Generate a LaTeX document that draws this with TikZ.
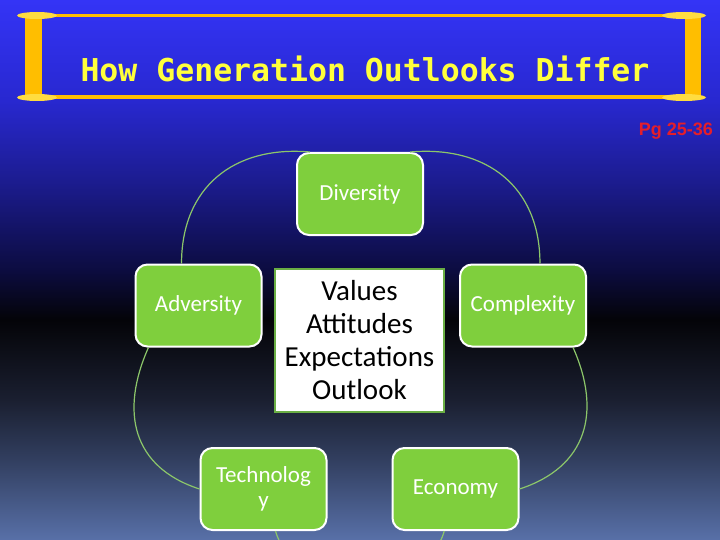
\documentclass[tikz,border=0pt]{standalone}
\usepackage{fontspec}
\setmainfont{Carlito}
\newfontfamily\titlefont{DejaVu Sans Mono}
\newfontfamily\pagefont{Liberation Sans}
\usetikzlibrary{positioning}

\definecolor{bgtop}{HTML}{3434F6}
\definecolor{bgblue}{HTML}{2828D0}
\definecolor{bgmid}{HTML}{1C1C90}
\definecolor{bgnavy}{HTML}{0C0C40}
\definecolor{bgblack}{HTML}{040408}
\definecolor{bgslate}{HTML}{1A1F30}
\definecolor{bgsteel}{HTML}{323F60}
\definecolor{bgbottom}{HTML}{5870A8}
\definecolor{scroll}{HTML}{FFBE00}
\definecolor{scrollhi}{HTML}{FFDC40}
\definecolor{titleyellow}{HTML}{FFFF3C}
\definecolor{pagered}{HTML}{E41E2A}
\definecolor{leafgreen}{HTML}{7FCF3D}
\definecolor{ringgreen}{HTML}{8CC66A}
\definecolor{coregreen}{HTML}{6AAE44}

\pgfdeclareverticalshading{slidebg}{100bp}{color(0bp)=(bgbottom); color(25bp)=(bgbottom);
  color(32.4bp)=(bgsteel); color(38bp)=(bgslate); color(45.4bp)=(bgblack); color(50bp)=(bgnavy);
  color(58.3bp)=(bgmid); color(65.7bp)=(bgblue); color(75bp)=(bgtop); color(100bp)=(bgtop)}

\begin{document}
\begin{tikzpicture}[x=1pt, y=1pt,
    topic/.style={rectangle, rounded corners=12pt, fill=leafgreen, draw=white, line width=2pt,
      minimum width=126pt, minimum height=82pt, align=center, text=white,
      font=\fontsize{23}{25}\selectfont},
    core/.style={rectangle, fill=white, draw=coregreen, line width=2pt,
      minimum width=169pt, minimum height=143pt, align=center, text=black,
      font=\fontsize{29}{33}\selectfont},
    ring/.style={draw=ringgreen, line width=1.2pt},
    bar/.style={fill=scroll},
    knob/.style={fill=scrollhi}]
    \useasboundingbox (0,0) rectangle (720,-540);
    \clip (0,0) rectangle (720,-540);
    \shade[shading=slidebg] (0,0) rectangle (720,-540);

    % scroll
    \fill[bar] (37,-14) rectangle (686,-17.5);
    \fill[bar] (37,-95.5) rectangle (686,-99);
    \fill[bar] (25,-15) rectangle (42,-97);
    \fill[bar] (685,-15) rectangle (701,-97);
    \fill[knob] (37,-15.5) ellipse (20 and 3.5);
    \fill[knob] (37,-97.5) ellipse (20 and 3.5);
    \fill[knob] (684,-15.5) ellipse (22 and 3.5);
    \fill[knob] (684,-97.5) ellipse (22 and 3.5);
    \node[anchor=base, inner sep=0pt, text=titleyellow, font=\titlefont\bfseries\fontsize{31.5}{36}\selectfont] (title) at (365,-82) {How Generation Outlooks Differ};
    \node[anchor=base east, inner sep=0pt, text=pagered, font=\pagefont\bfseries\fontsize{18}{20}\selectfont] (pages) at (713,-136) {Pg 25-36};

    \node[core] (center) at (359.5,-340.5) {Values\\Attitudes\\Expectations\\Outlook};
    \node[topic] (diversity) at (360,-194) {Diversity};
    \node[topic] (adversity) at (198.5,-305.5) {Adversity};
    \node[topic] (complexity) at (523,-305.5) {Complexity};
    \node[topic] (technology) at (263.5,-489) {Technolog\\y};
    \node[topic] (economy) at (455.5,-489) {Economy};

    \path[ring] (diversity.140) to[out=175, in=90, looseness=1.15] (adversity.112)
      (diversity.40) to[out=5, in=90, looseness=1.15] (complexity.68)
      (complexity.-40) to[out=-66, in=18, looseness=1.2] (economy.east)
      (adversity.220) to[out=-114, in=162, looseness=1.2] (technology.west)
      (technology.-74) to[out=-75, in=-105] (economy.-105);
\end{tikzpicture}
\end{document}
